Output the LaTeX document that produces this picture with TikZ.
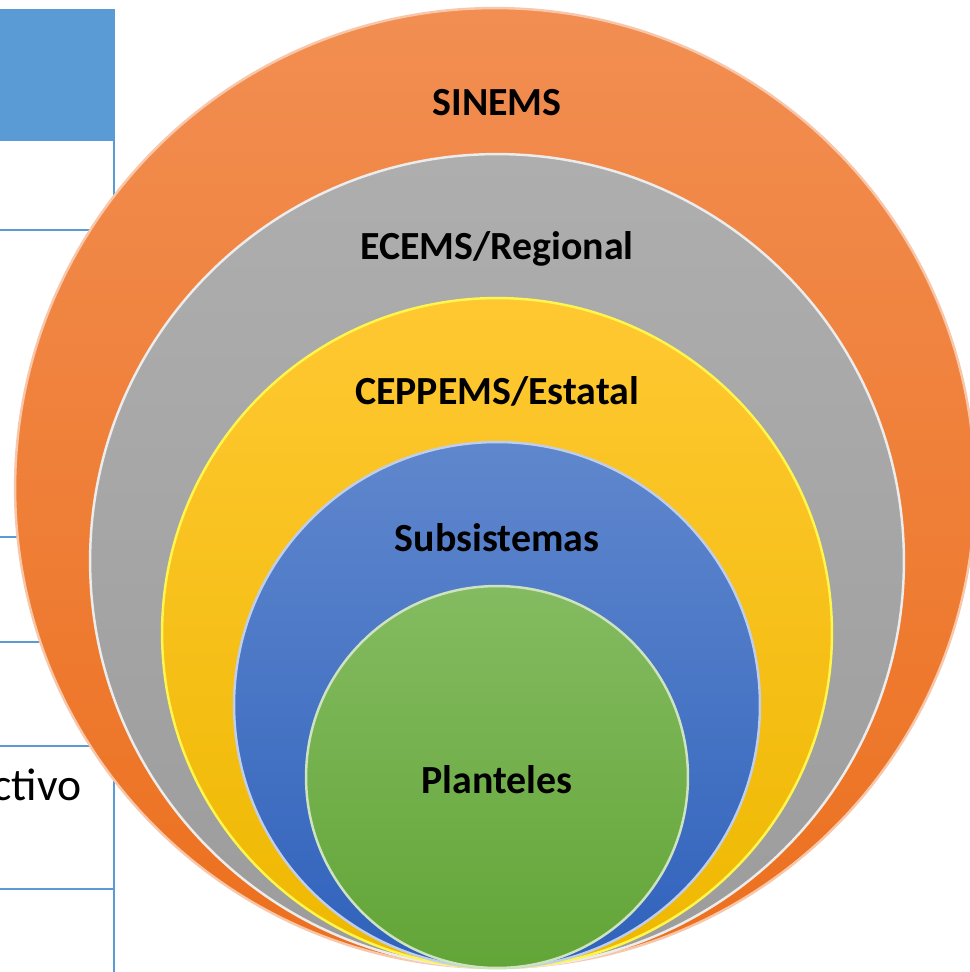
\documentclass[tikz,border=0pt]{standalone}
\usepackage{fontspec}
\setmainfont{Carlito}
\definecolor{tblblue}{RGB}{91,155,213}
\definecolor{orgtop}{RGB}{242,142,82}
\definecolor{orgbot}{RGB}{236,112,30}
\definecolor{grytop}{RGB}{174,174,174}
\definecolor{grybot}{RGB}{156,156,156}
\definecolor{yeltop}{RGB}{255,200,50}
\definecolor{yelbot}{RGB}{238,184,0}
\definecolor{blutop}{RGB}{95,135,205}
\definecolor{blubot}{RGB}{48,98,188}
\definecolor{grntop}{RGB}{132,187,97}
\definecolor{grnbot}{RGB}{98,165,55}
\tikzset{
  ring/.style={circle, inner sep=0pt, line width=1.4pt},
  lbl/.style={font=\fontsize{22.7}{27}\selectfont\bfseries, anchor=base},
  tblline/.style={draw=tblblue, line width=1.5pt}
}
\begin{document}
\begin{tikzpicture}[x=0.02cm, y=-0.02cm]
  \useasboundingbox (0,0) rectangle (969,972);
  % table behind the circles
  \fill[tblblue] (0,9) rectangle (114,140);
  \draw[tblline] (114,9) -- (114,972);
  \foreach \y in {140,230,537,642,746,889}
    \draw[tblline] (0,\y) -- (114,\y);
  \node[font=\fontsize{26}{30}\selectfont, anchor=base east, inner sep=0pt] (ctivo) at (82,800) {ctivo};

  % nested circles
  \node[ring, minimum size=19.2cm, top color=orgtop, bottom color=orgbot, draw=orgtop!50!white] (sinems) at (495,488) {};
  \node[ring, minimum size=16.28cm, top color=grytop, bottom color=grybot, draw=white!85!gray] (ecems) at (497,561) {};
  \node[ring, minimum size=13.4cm, top color=yeltop, bottom color=yelbot, draw=yellow!70!white] (ceppems) at (497,633) {};
  \node[ring, minimum size=10.52cm, top color=blutop, bottom color=blubot, draw=blutop!40!white] (subsis) at (497,705) {};
  \node[ring, minimum size=7.64cm, top color=grntop, bottom color=grnbot, draw=grntop!40!white] (plant) at (497,777) {};

  % labels
  \node[lbl] (l1) at (497,116) {SINEMS};
  \node[lbl] (l2) at (497,260) {ECEMS/Regional};
  \node[lbl] (l3) at (497,404) {CEPPEMS/Estatal};
  \node[lbl] (l4) at (497,551) {Subsistemas};
  \node[lbl] (l5) at (497,793) {Planteles};
\end{tikzpicture}
\end{document}
